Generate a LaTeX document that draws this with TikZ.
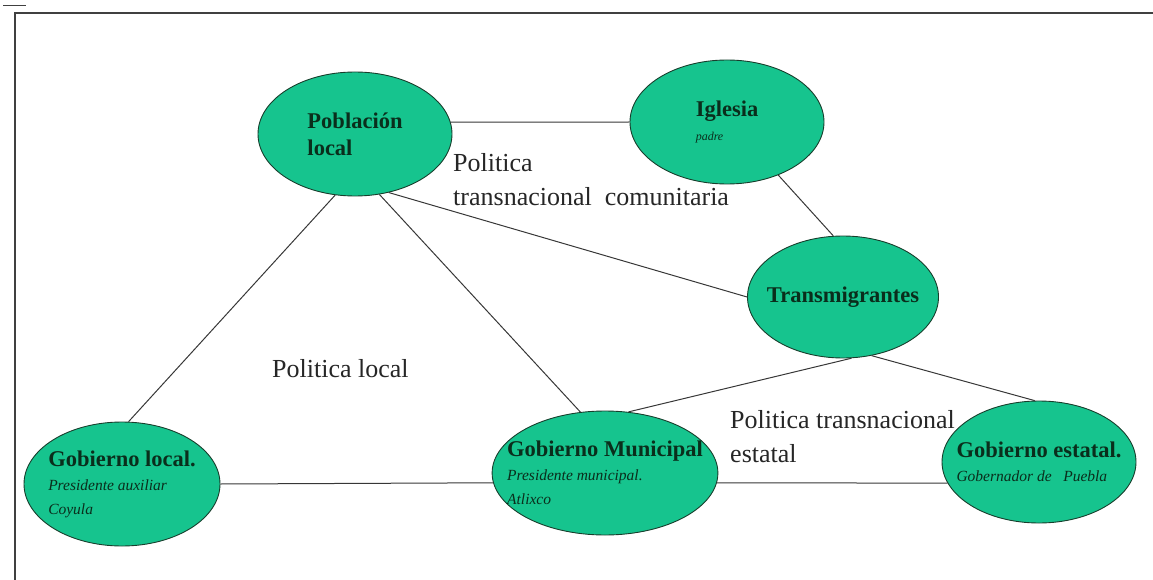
\documentclass[tikz,border=0pt]{standalone}
\usepackage{fontspec}
\setmainfont{Liberation Serif}
\newfontfamily\timesfont{Liberation Serif}
\usetikzlibrary{shapes.geometric}

\definecolor{actorfill}{RGB}{22,196,142}
\definecolor{actorline}{RGB}{24,62,44}
\definecolor{actortext}{RGB}{10,46,28}
\definecolor{linegray}{RGB}{55,55,55}

% small italic line under the actor name
\newcommand{\cargo}[1]{{\fontsize{15.5}{20}\selectfont\mdseries\itshape #1}}

\begin{document}
\begin{tikzpicture}[x=1pt,y=-1pt,
    actor/.style={ellipse,draw=actorline,fill=actorfill,line width=0.9pt,
                  inner xsep=-18pt,inner ysep=0pt,align=left,text=actortext,
                  font=\timesfont\fontsize{22.5}{24}\selectfont\bfseries},
    conn/.style={draw=linegray,line width=1pt},
    zone/.style={anchor=base west,inner sep=0pt,align=left,
                 font=\timesfont\fontsize{26}{34}\selectfont,text=black!85},
    frame/.style={draw=black!75,line width=1.8pt}]

    \useasboundingbox (0,0) rectangle (1153,580);
    \draw[frame] (15,580) -- (15,13) -- (1153,13);
    \draw[frame] (3,5.5) -- (26,5.5);

    \node[actor,minimum width=194,minimum height=124] (pob) at (355,134) {Población\\[3pt]local};
    \node[actor,minimum width=194,minimum height=124] (igl) at (727,122)
        {Iglesia\\ {\fontsize{12}{16}\selectfont\mdseries\itshape padre}};
    \node[actor,minimum width=191,minimum height=122] (tra) at (843,297) {Transmigrantes};
    \node[actor,minimum width=196,minimum height=124] (gloc) at (122,484)
        {Gobierno local.\\ \cargo{Presidente auxiliar}\\ \cargo{Coyula}};
    \node[actor,minimum width=224,minimum height=124] (gmun) at (605,473)
        {Gobierno Municipal\\ \cargo{Presidente municipal.}\\ \cargo{Atlixco}};
    \node[actor,minimum width=194,minimum height=122] (gest) at (1039,462)
        {Gobierno estatal.\\ \cargo{Gobernador de~~~Puebla}};

    \node[zone] (pcom) at (453,205) {Politica\\transnacional\ \ comunitaria};
    \node[zone] (ploc) at (272,377) {Politica local};
    \node[zone] (pest) at (730,462) {Politica transnacional\\estatal};

    \path[conn] (pob.7) edge (igl.west)
                (pob.-108) edge (gloc.84)
                (pob.-68) edge (gmun.112)
                (pob.-60) edge (tra.west)
                (igl.-46) edge (tra.99)
                (tra.-82) edge (gmun.69)
                (tra.-64) edge (gest.94)
                (gloc.east) edge (gmun.185)
                (gmun.-5) edge (gest.193);
\end{tikzpicture}
\end{document}
